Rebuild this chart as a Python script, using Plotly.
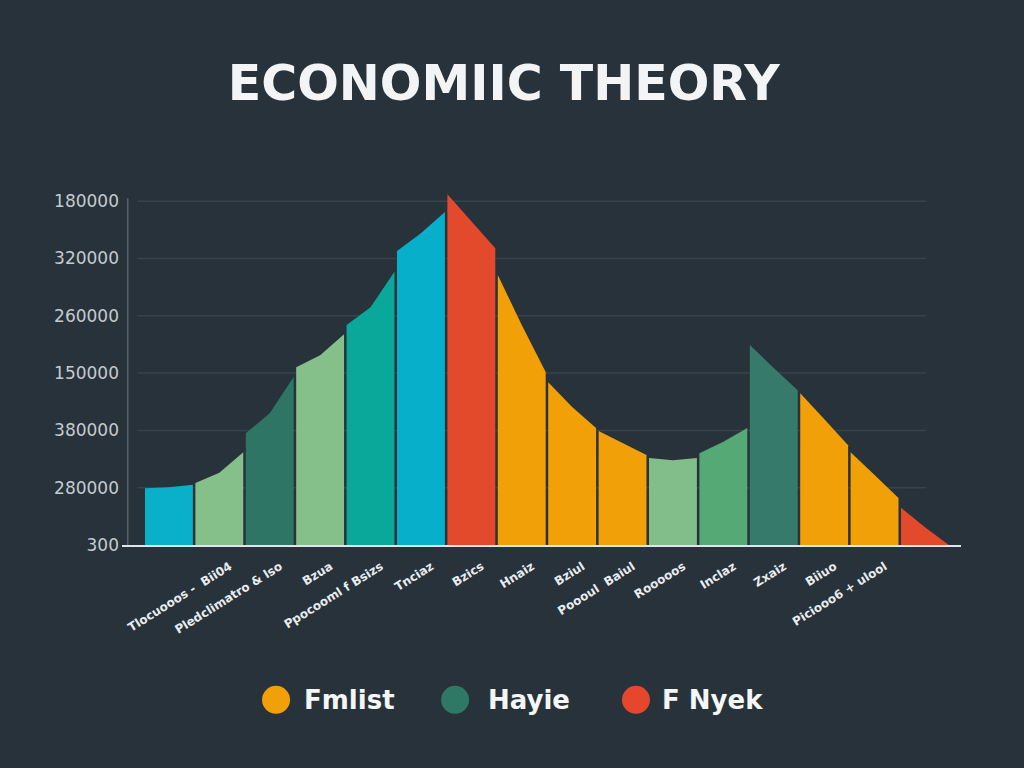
"""
Economic theory chart - segmented area bars with legend
"""

import plotly.graph_objects as go

# segment data (value units, 0..6 on the axis)
left_vals = [0.99, 1.08, 1.95, 3.10, 3.84, 5.13, 6.12, 4.71, 2.84, 1.99, 1.52, 1.60, 3.49, 2.65, 1.62, 0.65]
mid_vals = [1.01, 1.26, 2.30, 3.31, 4.15, 5.44, 5.65, 3.84, 2.41, 1.78, 1.48, 1.80, 3.09, 2.20, 1.22, 0.31]
right_vals = [1.05, 1.62, 2.93, 3.68, 4.77, 5.81, 5.18, 3.02, 2.04, 1.57, 1.52, 2.04, 2.70, 1.74, 0.82, 0.0]
seg_colors = ['#0aafc9', '#85c08a', '#2f7566', '#85c08a', '#0aa89a', '#08afcb', '#e3492b', '#f2a007',
              '#f2a007', '#f2a007', '#82be89', '#54a974', '#357a6b', '#f2a007', '#f2a007', '#e3492b']

x_labels = ['', 'Tlocuooos -  Bii04', 'Pledclimatro & lso', 'Bzua', 'Ppocooml f Bsizs', 'Tnciaz',
            'Bzics', 'Hnaiz', 'Bziul', 'Poooul  Baiul', 'Rooooos', 'Inclaz', 'Zxaiz', 'Biiuo',
            'Piciooo6 + ulool', '']

y_ticks = [0, 1, 2, 3, 4, 5, 6]
y_labels = ['300', '280000', '380000', '150000', '260000', '320000', '180000']

legend_names = ['Fmlist', 'Hayie', 'F Nyek']
legend_colors = ['#f2a007', '#2f7866', '#e4472b']

BG = '#27323a'
W = 0.95

fig = go.Figure()

for i, (l, m, r, c) in enumerate(zip(left_vals, mid_vals, right_vals, seg_colors)):
    xs = [i, i, i + W / 2, i + W, i + W, i]
    ys = [0, l, m, r, 0, 0]
    fig.add_trace(go.Scatter(x=xs, y=ys, fill='toself', fillcolor=c, mode='lines',
                             line=dict(width=0, color=c), showlegend=False, hoverinfo='skip'))

# faint grid lines and left axis line
shapes = []
for t in y_ticks[1:]:
    shapes.append(dict(type='line', xref='x', yref='y', x0=-0.15, x1=15.5, y0=t, y1=t,
                       line=dict(color='#36444c', width=1.5), layer='below'))
shapes.append(dict(type='line', xref='x', yref='y', x0=-0.34, x1=-0.34, y0=0, y1=6.05,
                   line=dict(color='#6f7b82', width=1), layer='below'))

# manual legend (big dots), paper coords of a 839x361 plot area
dot_x = [0.1836, 0.397, 0.6126]
text_x = [0.2145, 0.4339, 0.6412]
dot_y = -0.429
rx, ry = 14 / 839, 14 / 361
annotations = []
for name, col, dx, tx in zip(legend_names, legend_colors, dot_x, text_x):
    shapes.append(dict(type='circle', xref='paper', yref='paper',
                       x0=dx - rx, x1=dx + rx, y0=dot_y - ry, y1=dot_y + ry,
                       fillcolor=col, line=dict(width=0)))
    annotations.append(dict(xref='paper', yref='paper', x=tx, y=dot_y, text=name,
                            showarrow=False, xanchor='left', yanchor='middle',
                            font=dict(family='DejaVu Sans', size=26, color='#f4f6f7', weight='bold')))

fig.update_layout(
    width=1024, height=768,
    paper_bgcolor=BG, plot_bgcolor=BG,
    margin=dict(l=122, r=63, t=184, b=223),
    title=dict(text='ECONOMIIC THEORY', x=0.492, xanchor='center', y=0.892, yanchor='middle',
               font=dict(family='DejaVu Sans', size=49, color='#f2f4f5', weight='bold')),
    xaxis=dict(range=[-0.456, 16.19], tickvals=[i + 0.68 for i in range(len(x_labels))],
               ticktext=x_labels, tickangle=-32, showgrid=False, zeroline=False,
               showline=True, linecolor='#dfe6ea', linewidth=2, ticks='', ticklabelstandoff=8,
               tickfont=dict(family='DejaVu Sans', size=12, color='#e8ecee', weight='bold')),
    yaxis=dict(range=[0, 6.3], tickvals=y_ticks, ticktext=y_labels, showgrid=False,
               zeroline=False, showline=False, ticks='', ticklabelstandoff=2,
               tickfont=dict(family='DejaVu Sans', size=17, color='#c3cbd0')),
    shapes=shapes,
    annotations=annotations,
    showlegend=False,
)

fig.write_html("out.html", config={'displayModeBar': False},
               post_script="document.body.style.margin='0';document.body.style.overflow='hidden';")
